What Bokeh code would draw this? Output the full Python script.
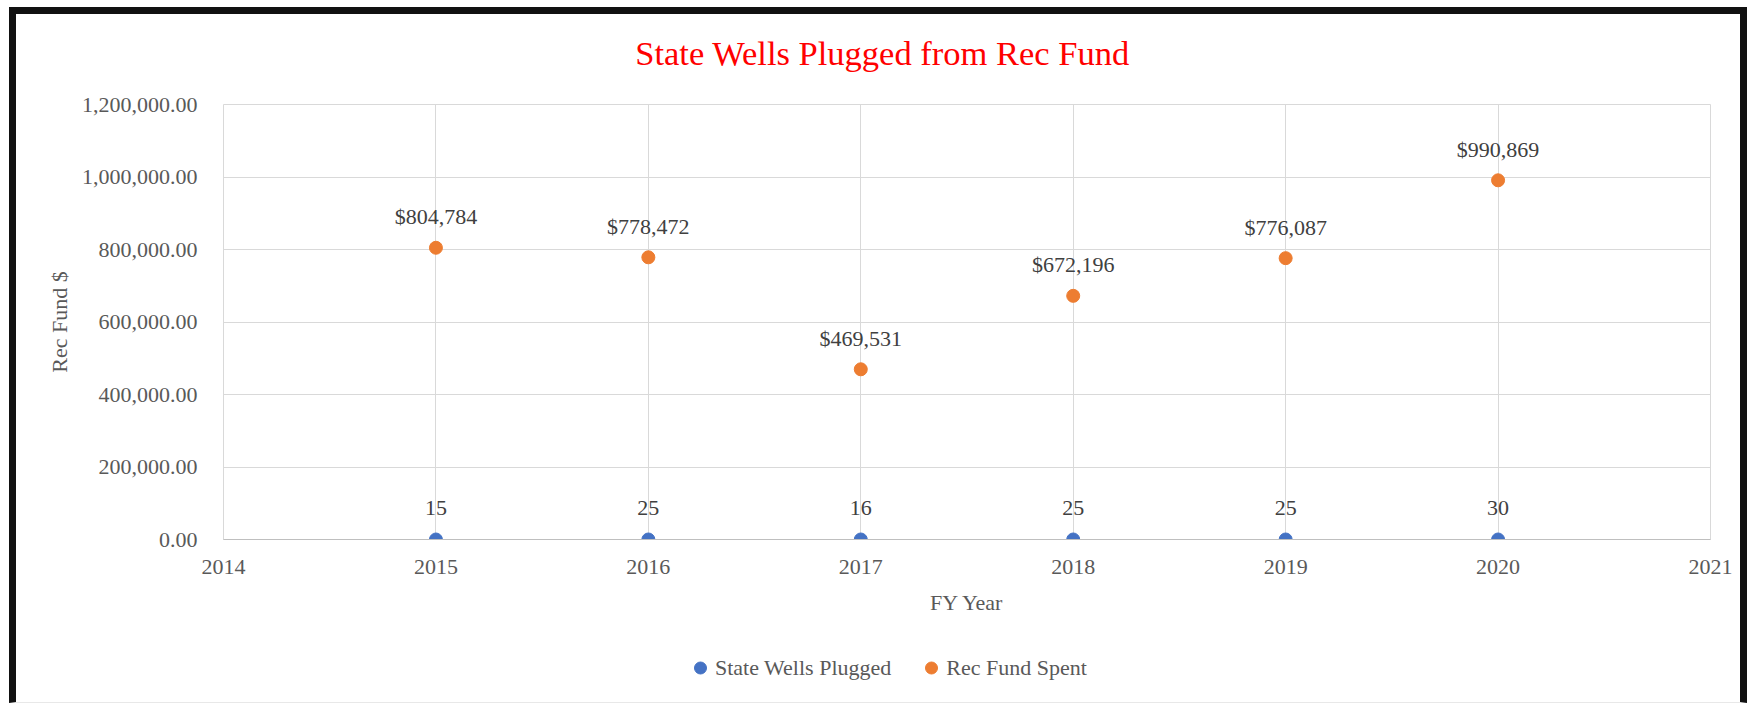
from bokeh.plotting import figure
from bokeh.layouts import column
from bokeh.models import (ColumnDataSource, NumeralTickFormatter, FixedTicker,
                          Range1d, Legend, LegendItem, BasicTickFormatter, Label)
from bokeh.core.properties import value
from bokeh.embed import file_html
from bokeh.resources import INLINE

# ---- data ----
years = [2015, 2016, 2017, 2018, 2019, 2020]
wells_plugged = [15, 25, 16, 25, 25, 30]
rec_fund_spent = [804784, 778472, 469531, 672196, 776087, 990869]
x_ticks = [2014, 2015, 2016, 2017, 2018, 2019, 2020, 2021]
y_ticks = [0, 200000, 400000, 600000, 800000, 1000000, 1200000]
title_text = "State Wells Plugged from Rec Fund"
x_title = "FY Year"
y_title = "Rec Fund $"
series_names = ["State Wells Plugged", "Rec Fund Spent"]

FONT = "Liberation Serif"
GRAY = "#595959"
DARK = "#404040"
GRID = "#D9D9D9"
BLUE = "#4472C4"
ORANGE = "#ED7D31"

W = 1724
BL, BR = 207, 30   # shared left/right borders so all frames line up


def strip(height):
    f = figure(width=W, height=height, output_backend="svg", toolbar_location=None,
               x_range=Range1d(0, 1), y_range=Range1d(0, 1),
               x_axis_location=None, y_axis_location=None,
               min_border_left=BL, min_border_right=BR,
               min_border_top=0, min_border_bottom=0)
    f.grid.visible = False
    f.outline_line_color = None
    f.background_fill_color = "white"
    f.border_fill_color = "white"
    return f


# ---- title strip ----
p0 = strip(72)
p0.add_layout(Label(x=0.4432, y=0.47, text=title_text, text_align="center",
                    text_baseline="middle", text_font=FONT,
                    text_font_size="34.5px", text_color="#FF0000"))

# ---- main chart ----
p = figure(width=W, height=548, output_backend="svg", toolbar_location=None,
           x_range=Range1d(x_ticks[0], x_ticks[-1]),
           y_range=Range1d(y_ticks[0], y_ticks[-1]),
           min_border_left=BL, min_border_right=BR,
           min_border_top=18, min_border_bottom=95)
p.background_fill_color = "white"
p.border_fill_color = "white"
p.outline_line_color = GRID

p.xgrid.ticker = FixedTicker(ticks=x_ticks)
p.ygrid.ticker = FixedTicker(ticks=y_ticks)
for g in (p.xgrid, p.ygrid):
    g.grid_line_color = GRID
    g.grid_line_width = 1

xa = p.xaxis[0]
xa.ticker = FixedTicker(ticks=x_ticks)
xa.formatter = BasicTickFormatter(use_scientific=False)
xa.axis_line_color = "#BFBFBF"
xa.major_tick_line_color = None
xa.minor_tick_line_color = None
xa.major_label_standoff = 14
xa.axis_label = x_title
xa.axis_label_standoff = 13

ya = p.yaxis[0]
ya.ticker = FixedTicker(ticks=y_ticks)
ya.formatter = NumeralTickFormatter(format="0,0.00")
ya.axis_line_color = None
ya.major_tick_line_color = None
ya.minor_tick_line_color = None
ya.major_label_standoff = 20
ya.axis_label = y_title
ya.axis_label_standoff = 7

for ax in (xa, ya):
    ax.major_label_text_font = FONT
    ax.major_label_text_font_size = "22px"
    ax.major_label_text_color = GRAY
    ax.axis_label_text_font = FONT
    ax.axis_label_text_font_size = "22px"
    ax.axis_label_text_font_style = "normal"
    ax.axis_label_text_color = GRAY

src_w = ColumnDataSource(dict(x=years, y=wells_plugged,
                              lbl=[str(v) for v in wells_plugged]))
src_f = ColumnDataSource(dict(x=years, y=rec_fund_spent,
                              lbl=[f"${v:,}" for v in rec_fund_spent]))

p.scatter("x", "y", source=src_w, size=13, color=BLUE)
p.scatter("x", "y", source=src_f, size=13, color=ORANGE)

for src in (src_w, src_f):
    p.text("x", "y", text="lbl", source=src, text_align="center",
           text_baseline="alphabetic", y_offset=-31,
           text_font=value(FONT), text_font_size="22px", text_color=DARK)

# ---- legend strip ----
p2 = strip(68)
# swatch renderers (their data lie outside this strip's ranges, so only the
# legend swatches show)
lr1 = p2.scatter(x=years, y=wells_plugged, size=13, color=BLUE)
lr2 = p2.scatter(x=years, y=rec_fund_spent, size=13, color=ORANGE)

legend = Legend(items=[LegendItem(label=series_names[0], renderers=[lr1]),
                       LegendItem(label=series_names[1], renderers=[lr2])],
                orientation="horizontal", location=(462, 18),
                padding=0, margin=0, spacing=25, label_standoff=0,
                glyph_width=30, glyph_height=33,
                border_line_color=None, background_fill_alpha=0,
                label_text_font=FONT, label_text_font_size="22px",
                label_text_color=GRAY)
p2.add_layout(legend, "center")

layout = column(p0, p, p2, spacing=0,
                styles={"box-sizing": "content-box",
                        "margin-left": "9px", "margin-top": "7px",
                        "border-left": "7px solid #111111",
                        "border-right": "7px solid #111111",
                        "border-top": "7px solid #111111",
                        "border-bottom": "1px solid #E8E8E8"})

open("out.html", "w").write(file_html(layout, INLINE))
